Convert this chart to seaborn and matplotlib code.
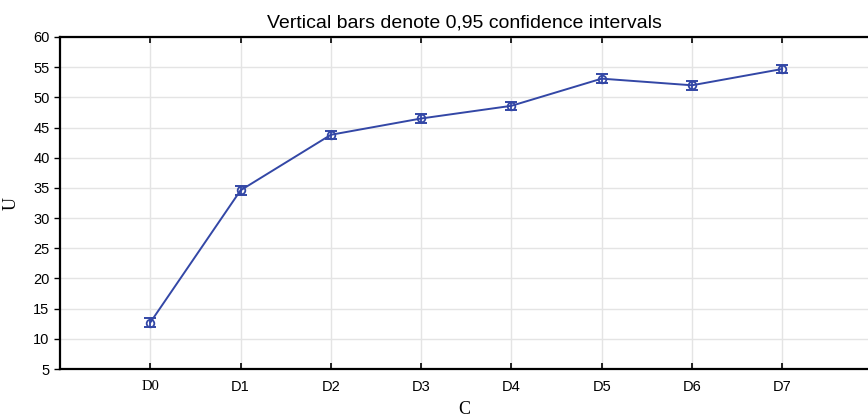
import numpy as np
import matplotlib
matplotlib.use("Agg")
import matplotlib.pyplot as plt
import seaborn as sns

# --- data ---
categories = ["D0", "D1", "D2", "D3", "D4", "D5", "D6", "D7"]
means = [12.7, 34.6, 43.8, 46.5, 48.6, 53.1, 52.0, 54.7]
ci_half = [0.7, 0.7, 0.7, 0.7, 0.7, 0.7, 0.7, 0.7]
y_ticks = [5, 10, 15, 20, 25, 30, 35, 40, 45, 50, 55, 60]

sns.set_style("white")
plt.rcParams['font.family'] = ['Liberation Sans', 'DejaVu Sans']
plt.rcParams['text.color'] = 'black'
plt.rcParams['axes.labelcolor'] = 'black'

blue = "#3347a6"
pos = np.arange(len(categories))

fig = plt.figure(figsize=(8.68, 4.19), dpi=100)
ax = fig.add_axes([60 / 868, 50 / 419, 808 / 868, 332 / 419])

sns.lineplot(x=pos, y=means, ax=ax, color=blue, linewidth=1.4,
             marker="o", markersize=5.5, markerfacecolor="none",
             markeredgecolor=blue, markeredgewidth=1.3)
ax.errorbar(pos, means, yerr=ci_half, fmt="none", ecolor=blue,
            elinewidth=1.3, capsize=4.5, capthick=1.4)

ax.set_xlim(-1, 7.95)
ax.set_ylim(5, 60)
ax.set_yticks(y_ticks)
ax.set_xticks(pos)
ax.set_xticklabels(categories)
ax.get_xticklabels()[0].set_family(['Liberation Serif'])

ax.grid(True, color="#e4e4e4", linewidth=1.0)
ax.set_axisbelow(True)

for side in ["left", "bottom", "top"]:
    ax.spines[side].set_color("black")
    ax.spines[side].set_linewidth(1.6)
ax.spines["right"].set_visible(False)

ax.tick_params(axis="y", direction="out", length=4, width=1, labelsize=10.5,
               colors="black", labelcolor="black", left=True)
ax.tick_params(axis="x", direction="in", length=4, width=1.2, labelsize=10.5,
               colors="black", labelcolor="black", bottom=True, top=True, pad=8)

ax.set_title("Vertical bars denote 0,95 confidence intervals",
             fontsize=14, pad=7, color="black")
ax.set_xlabel("C", fontsize=13, family=['Liberation Serif'], labelpad=5)
ax.set_ylabel("U", fontsize=13, family=['Liberation Serif'], labelpad=10)

fig.savefig("out.png", dpi=100)
